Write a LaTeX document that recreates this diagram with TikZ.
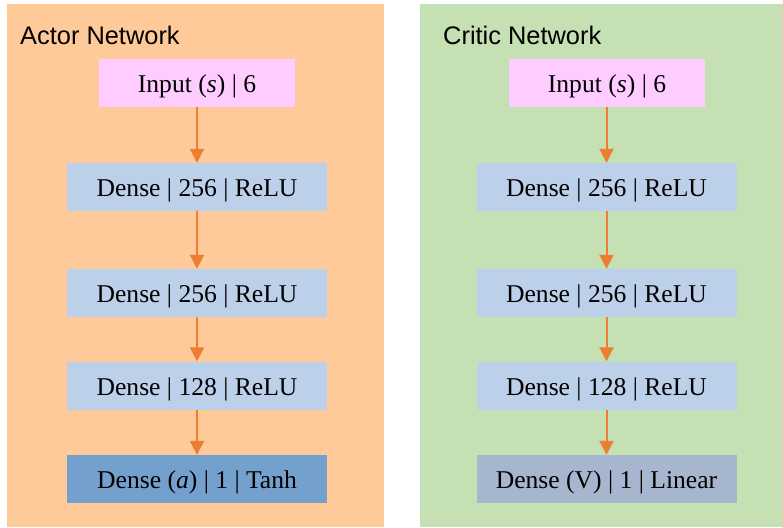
\documentclass[tikz,border=0pt]{standalone}
\usepackage{fontspec}
\setmainfont{Liberation Serif}
\newfontfamily\titlefont{Liberation Sans}
\usetikzlibrary{arrows.meta}
\definecolor{peach}{RGB}{255,202,153}
\definecolor{leaf}{RGB}{197,224,179}
\definecolor{pinkbox}{RGB}{255,204,255}
\definecolor{bluebox}{RGB}{189,208,233}
\definecolor{darkbox}{RGB}{116,160,205}
\definecolor{graybox}{RGB}{166,182,206}
\definecolor{arrowc}{RGB}{237,125,49}
\tikzset{
  layer/.style={inner sep=0pt, minimum height=48pt, text=black,
    text height=23pt, text depth=4pt,
    font=\fontsize{25.6}{30}\selectfont},
  inbox/.style={layer, fill=pinkbox, minimum width=196pt},
  densebox/.style={layer, fill=bluebox, minimum width=260pt},
  outa/.style={layer, fill=darkbox, minimum width=260pt},
  outc/.style={layer, fill=graybox, minimum width=260pt},
  ttl/.style={inner sep=0pt, anchor=base west, font=\titlefont\fontsize{25.4}{30}\selectfont},
  conn/.style={draw=arrowc, line width=2pt, -{Triangle[width=14pt,length=14pt]}, arrowc}
}
\begin{document}
\begin{tikzpicture}[x=1pt,y=-1pt]
\useasboundingbox (0,0) rectangle (783,527);
\fill[white] (0,0) rectangle (783,527);
\fill[peach] (7,4) rectangle (384,527);
\fill[leaf] (420,4) rectangle (783,527);
\node[ttl] (ta) at (20,45) {Actor Network};
\node[ttl] (tc) at (443,45) {Critic Network};
% actor
\node[inbox] (a0) at (197,83) {Input (\textit{s}) | 6};
\node[densebox] (a1) at (197,187) {Dense | 256 | ReLU};
\node[densebox] (a2) at (197,293) {Dense | 256 | ReLU};
\node[densebox] (a3) at (197,385.5) {Dense | 128 | ReLU};
\node[outa] (a4) at (197,479) {Dense (\textit{a}) | 1 | Tanh};
% critic
\node[inbox] (c0) at (607,83) {Input (\textit{s}) | 6};
\node[densebox] (c1) at (606.5,187) {Dense | 256 | ReLU};
\node[densebox] (c2) at (606.5,293) {Dense | 256 | ReLU};
\node[densebox] (c3) at (606.5,385.5) {Dense | 128 | ReLU};
\node[outc] (c4) at (606.5,479) {Dense (V) | 1 | Linear};
\draw[conn] (a0) -- (a1);
\draw[conn] (a1) -- (a2);
\draw[conn] (a2) -- (a3);
\draw[conn] (a3) -- (a4);
\draw[conn] (c0.south -| c1) -- (c1);
\draw[conn] (c1) -- (c2);
\draw[conn] (c2) -- (c3);
\draw[conn] (c3) -- (c4);
\end{tikzpicture}
\end{document}
